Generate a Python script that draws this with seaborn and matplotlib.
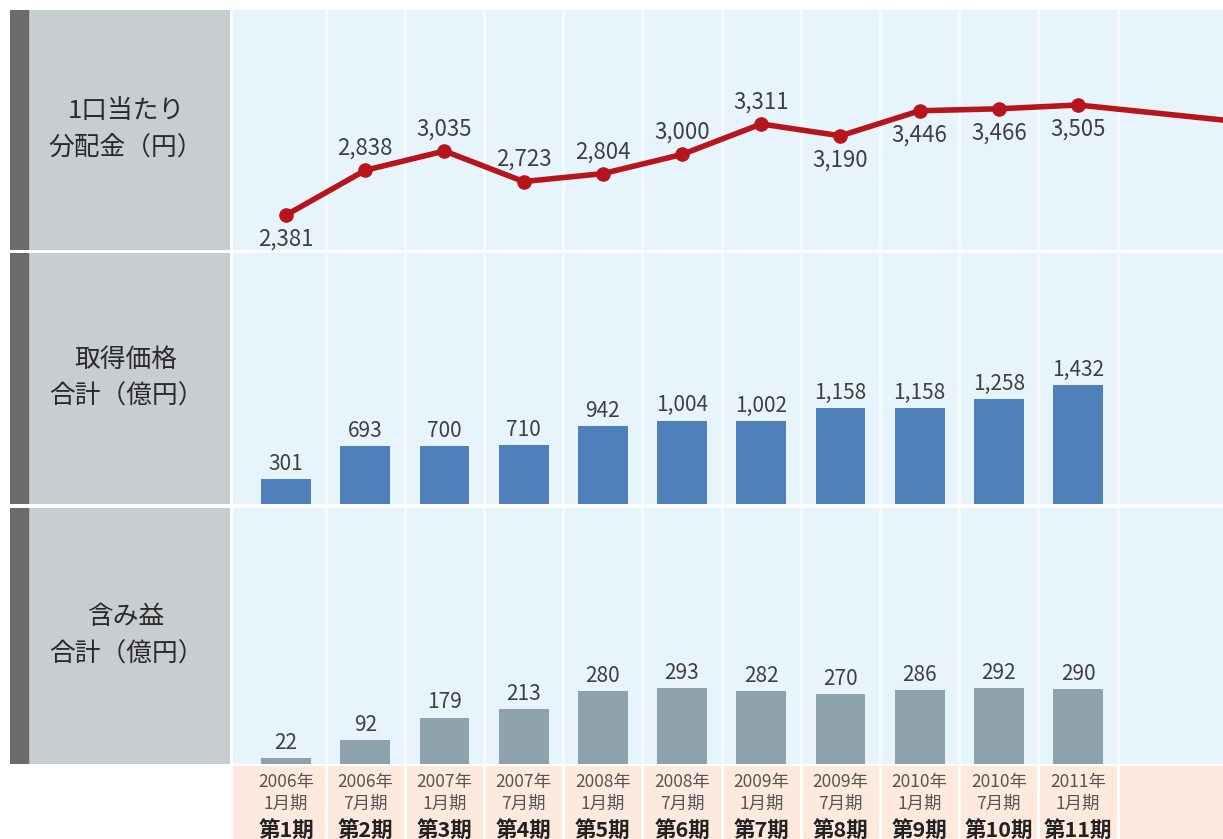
import matplotlib
matplotlib.use('Agg')
import matplotlib.pyplot as plt
import seaborn as sns
import numpy as np
import pandas as pd

# data
years = ['2006年', '2006年', '2007年', '2007年', '2008年', '2008年',
         '2009年', '2009年', '2010年', '2010年', '2011年']
months = ['1月期', '7月期', '1月期', '7月期', '1月期', '7月期',
          '1月期', '7月期', '1月期', '7月期', '1月期']
periods = ['第1期', '第2期', '第3期', '第4期', '第5期', '第6期',
           '第7期', '第8期', '第9期', '第10期', '第11期']
distribution = [2381, 2838, 3035, 2723, 2804, 3000, 3311, 3190, 3446, 3466, 3505]
next_distribution = 3337  # line runs off the right edge toward the next period
acquisition = [301, 693, 700, 710, 942, 1004, 1002, 1158, 1158, 1258, 1432]
unrealized = [22, 92, 179, 213, 280, 293, 282, 270, 286, 292, 290]
row_titles = ['1口当たり\n分配金（円）', '取得価格\n合計（億円）', '含み益\n合計（億円）']

W, H = 1223, 839
sns.set_theme(style='white')
plt.rcParams['font.family'] = ['Noto Sans CJK JP', 'DejaVu Sans']

BG = '#e8f4fc'
PEACH = '#fde9de'
PANEL = '#c8cdd0'
DARK = '#6b6b6b'
RED = '#b8141c'
BLUE = '#4f80bc'
GREY_BAR = '#8ea2ae'
TXT = '#404040'
SEP = '#f7fbfe'

fig = plt.figure(figsize=(W / 100, H / 100), dpi=100)
fig.patch.set_facecolor('white')


def px_axes(x0, y0, x1, y1):
    return fig.add_axes([x0 / W, 1 - y1 / H, (x1 - x0) / W, (y1 - y0) / H])


n = len(periods)
idx = np.arange(n)
XLIM = (-0.67, 11.83)
rows = [(10, 250), (253, 504), (508, 764)]


def style_plot_axes(ax, ylim):
    ax.set_facecolor(BG)
    ax.set_xlim(*XLIM)
    ax.set_ylim(*ylim)
    for x in np.arange(0.5, n, 1.0):
        ax.axvline(x, color=SEP, lw=2, zorder=0.5)
    ax.set_xticks([])
    ax.set_yticks([])
    ax.set_xlabel('')
    ax.set_ylabel('')
    for s in ax.spines.values():
        s.set_visible(False)


# label panels
for (y0, y1), title in zip(rows, row_titles):
    lax = px_axes(10, y0, 230, y1)
    lax.set_facecolor(PANEL)
    lax.set_xlim(0, 220)
    lax.set_ylim(0, 1)
    lax.axvspan(0, 18, color=DARK)
    lax.text(116, 0.5, title, ha='center', va='center', fontsize=18.5,
             color='#2a2a2a', linespacing=1.55)
    lax.set_xticks([])
    lax.set_yticks([])
    for s in lax.spines.values():
        s.set_visible(False)

# row 1: distribution per unit
ax1 = px_axes(233, rows[0][0], W, rows[0][1])
df1 = pd.DataFrame({'x': idx, 'y': distribution})
sns.lineplot(data=pd.DataFrame({'x': [idx[-1], n + 1], 'y': [distribution[-1], next_distribution]}),
             x='x', y='y', color=RED, lw=4, ax=ax1, zorder=3)
sns.lineplot(data=df1, x='x', y='y', color=RED, lw=4, marker='o', markersize=10.5,
             markeredgewidth=0, ax=ax1, zorder=4)
style_plot_axes(ax1, (2024, 4475))
below = {0, 7, 8, 9, 10}
for i, v in enumerate(distribution):
    off = -24 if i in below else 22
    ax1.annotate(f'{v:,}', (i, v), xytext=(0, off), textcoords='offset pixels',
                 ha='center', va='center', fontsize=16, color=TXT)

# row 2: acquisition price total
ax2 = px_axes(233, rows[1][0], W, rows[1][1])
sns.barplot(data=pd.DataFrame({'x': idx, 'y': acquisition}), x='x', y='y',
            color=BLUE, saturation=1, width=0.63, native_scale=True,
            edgecolor='none', linewidth=0, ax=ax2, zorder=2)
style_plot_axes(ax2, (0, 3020))
ax2.bar_label(ax2.containers[0], labels=[f'{v:,}' for v in acquisition],
              padding=3, fontsize=15, color=TXT)

# row 3: unrealized gain total
ax3 = px_axes(233, rows[2][0], W, rows[2][1])
sns.barplot(data=pd.DataFrame({'x': idx, 'y': unrealized}), x='x', y='y',
            color=GREY_BAR, saturation=1, width=0.63, native_scale=True,
            edgecolor='none', linewidth=0, ax=ax3, zorder=2)
style_plot_axes(ax3, (0, 988))
ax3.bar_label(ax3.containers[0], labels=[f'{v:,}' for v in unrealized],
              padding=3, fontsize=15, color=TXT)

# period labels
ax4 = px_axes(233, 766, W, H)
ax4.set_facecolor(PEACH)
ax4.set_xlim(*XLIM)
ax4.set_ylim(0, 1)
for x in np.arange(0.5, n, 1.0):
    ax4.axvline(x, color='white', lw=2)
for i in idx:
    ax4.text(i, 0.78, years[i], ha='center', va='center', fontsize=12.5, color='#555555')
    ax4.text(i, 0.48, months[i], ha='center', va='center', fontsize=12.5, color='#555555')
    ax4.text(i, 0.12, periods[i], ha='center', va='center', fontsize=15.5,
             fontweight='bold', color='#222222')
ax4.set_xticks([])
ax4.set_yticks([])
for s in ax4.spines.values():
    s.set_visible(False)

fig.savefig('out.png', dpi=100, facecolor='white')
